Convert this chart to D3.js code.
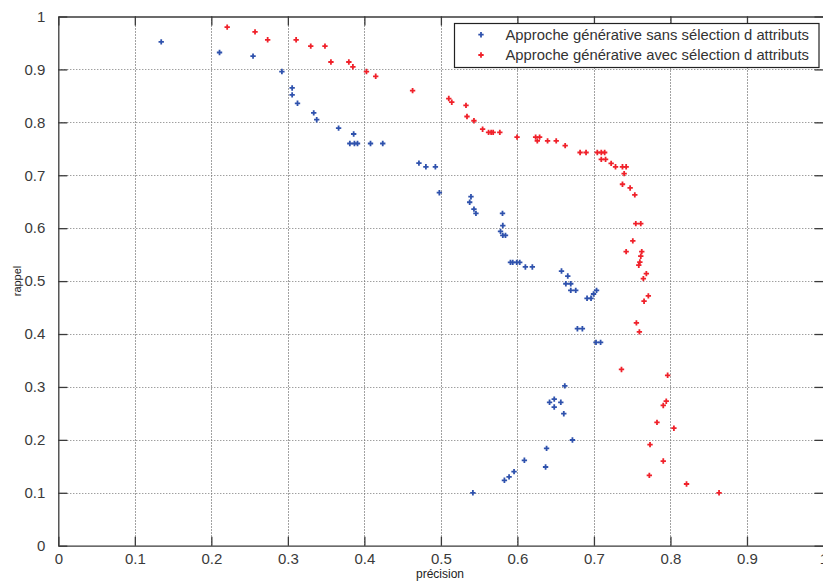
<!DOCTYPE html>
<html>
<head>
<meta charset="utf-8">
<script src="https://cdn.jsdelivr.net/npm/d3@7"></script>
<style>
html,body{margin:0;padding:0;background:#fff;overflow:hidden;}
svg{display:block;font-family:"Liberation Sans",Arial,sans-serif;}
</style>
</head>
<body>
<svg id="chart" width="823" height="581"></svg>
<script>
// Data
const seriesNames = ["Approche générative sans sélection d attributs", "Approche générative avec sélection d attributs"];
const xTicks = [0,0.1,0.2,0.3,0.4,0.5,0.6,0.7,0.8,0.9,1];
const yTicks = [0,0.1,0.2,0.3,0.4,0.5,0.6,0.7,0.8,0.9,1];
const xLabel = "précision";
const yLabel = "rappel";

const blueX = [0.1345,0.2107,0.2545,0.2922,0.3056,0.3056,0.3126,0.3338,0.3377,0.3663,0.381,0.386,0.387,0.391,0.408,0.424,
  0.4713,0.4804,0.4928,0.498,0.5393,0.5376,0.5432,0.5458,0.5805,0.5809,0.5779,0.5809,0.5844,
  0.5909,0.5939,0.5991,0.603,0.6104,0.6195,0.6576,0.6658,0.6633,0.6697,0.6697,0.6762,0.7034,0.6995,0.691,0.6962,
  0.6784,0.6849,0.7027,0.7087,0.6619,0.6481,0.642,0.6567,0.6481,0.6606,0.6719,0.6381,0.6091,0.6368,0.5956,0.5891,0.583,0.5418];
const blueY = [0.952,0.932,0.925,0.896,0.865,0.852,0.836,0.818,0.805,0.789,0.760,0.778,0.760,0.760,0.760,0.760,
  0.723,0.716,0.716,0.667,0.6595,0.649,0.636,0.628,0.628,0.605,0.594,0.5865,0.5865,
  0.5355,0.5355,0.5355,0.5355,0.5267,0.5267,0.519,0.5096,0.495,0.495,0.4826,0.4826,0.4826,0.4756,0.4675,0.4675,
  0.410,0.410,0.3843,0.3843,0.302,0.277,0.271,0.271,0.262,0.2494,0.1997,0.184,0.1614,0.1487,0.140,0.130,0.1236,0.100];

const redX = [0.2207,0.2571,0.2736,0.3108,0.3299,0.3485,0.3563,0.3797,0.385,0.4027,0.4148,0.463,
  0.5103,0.5142,0.5328,0.5341,0.5432,0.5545,0.5623,0.5657,0.5683,0.577,0.5995,0.6238,0.629,0.626,0.6394,0.6507,0.6624,
  0.6819,0.6897,0.7044,0.7096,0.714,0.7096,0.7152,0.7225,0.7282,0.7373,0.7421,0.7395,0.7373,0.7473,0.7534,
  0.7547,0.7612,0.7508,0.7421,0.7625,0.7612,0.760,0.7586,0.7685,0.7646,0.7711,0.7655,0.7555,0.7594,
  0.736,0.7963,0.7945,0.7906,0.7824,0.8045,0.7733,0.7906,0.7724,0.821,0.8635];
const redY = [0.980,0.971,0.956,0.956,0.944,0.944,0.914,0.914,0.905,0.896,0.887,0.860,
  0.845,0.838,0.832,0.811,0.803,0.787,0.781,0.781,0.781,0.781,0.772,0.772,0.772,0.765,0.765,0.765,0.756,
  0.743,0.743,0.743,0.743,0.743,0.730,0.730,0.7225,0.716,0.716,0.716,0.703,0.683,0.676,0.663,
  0.6085,0.6085,0.576,0.5556,0.5556,0.547,0.536,0.530,0.514,0.5046,0.472,0.462,0.421,0.404,
  0.333,0.322,0.273,0.265,0.233,0.222,0.191,0.160,0.133,0.1166,0.100];

const colors = ["#2f52ad", "#f0212a"];

const svg = d3.select("#chart");
const mLeft = 58.3, mRight = 823.5, mTop = 16.5, mBottom = 545.7;
const x = d3.scaleLinear().domain([0,1]).range([mLeft, mRight]);
const y = d3.scaleLinear().domain([0,1]).range([mBottom, mTop]);

// grid
const grid = svg.append("g");
grid.selectAll("line.gx").data(xTicks.slice(1,-1)).enter().append("line")
  .attr("x1", d=>Math.round(x(d))+0.5).attr("x2", d=>Math.round(x(d))+0.5)
  .attr("y1", mTop).attr("y2", mBottom)
  .attr("stroke", "#444").attr("stroke-width", 1).attr("stroke-dasharray", "1,2");
grid.selectAll("line.gy").data(yTicks.slice(1,-1)).enter().append("line")
  .attr("y1", d=>Math.round(y(d))+0.5).attr("y2", d=>Math.round(y(d))+0.5)
  .attr("x1", mLeft).attr("x2", mRight)
  .attr("stroke", "#777").attr("stroke-width", 1).attr("stroke-dasharray", "1,2");

// axes
const axColor = "#3a3a3a";
const xAxis = svg.append("g").attr("transform", `translate(0,${mBottom})`)
  .call(d3.axisBottom(x).tickValues(xTicks).tickFormat(d=>d3.format("")(d)).tickSizeInner(-9).tickSizeOuter(0).tickPadding(14));
const xAxisTop = svg.append("g").attr("transform", `translate(0,${mTop})`)
  .call(d3.axisTop(x).tickValues(xTicks).tickFormat("").tickSizeInner(-9).tickSizeOuter(0));
const yAxis = svg.append("g").attr("transform", `translate(${mLeft},0)`)
  .call(d3.axisLeft(y).tickValues(yTicks).tickFormat(d=>d3.format("")(d)).tickSizeInner(-9).tickSizeOuter(0).tickPadding(13));
const yAxisRight = svg.append("g").attr("transform", `translate(${mRight},0)`)
  .call(d3.axisRight(y).tickValues(yTicks).tickFormat("").tickSizeInner(-9).tickSizeOuter(0));
[xAxis,xAxisTop,yAxis,yAxisRight].forEach(g=>{
  g.selectAll(".domain").attr("stroke", axColor).attr("stroke-width", 1.3);
  g.selectAll(".tick line").attr("stroke", axColor).attr("stroke-width", 1.3);
  g.selectAll("text").attr("fill", "#3a3a3a").style("font-size", "15px").style("font-family", "'Liberation Sans',Arial,sans-serif");
});
xAxis.selectAll("text").attr("dy", "0.3em");

// axis labels
svg.append("text").attr("x", 440).attr("y", 578).attr("text-anchor", "middle")
  .style("font-size", "12px").attr("fill", "#222").text(xLabel);
svg.append("text").attr("transform", "translate(21,281) rotate(-90)").attr("text-anchor", "middle")
  .style("font-size", "11px").attr("fill", "#222").text(yLabel);

// points
const sym = d3.symbol().type(d3.symbolCross).size(16);
const series = [
  {xs: blueX, ys: blueY, c: colors[0]},
  {xs: redX, ys: redY, c: colors[1]}
];
series.forEach(s=>{
  svg.append("g").selectAll("path").data(s.xs.map((v,i)=>[v, s.ys[i]])).enter().append("path")
    .attr("d", sym)
    .attr("transform", d=>`translate(${x(d[0])},${y(d[1])})`)
    .attr("fill", s.c);
});

// legend
const lg = svg.append("g");
lg.append("rect").attr("x", 454.5).attr("y", 23.5).attr("width", 364.5).attr("height", 44)
  .attr("fill", "#fff").attr("stroke", "#222").attr("stroke-width", 1.2);
seriesNames.forEach((n,i)=>{
  const yy = 34.7 + i*20.3;
  lg.append("path").attr("d", sym).attr("transform", `translate(481,${yy})`).attr("fill", colors[i]);
  lg.append("text").attr("x", 505.5).attr("y", yy).attr("dy", "0.35em")
    .style("font-size", "14.8px").attr("fill", "#333").text(n);
});
</script>
</body>
</html>
